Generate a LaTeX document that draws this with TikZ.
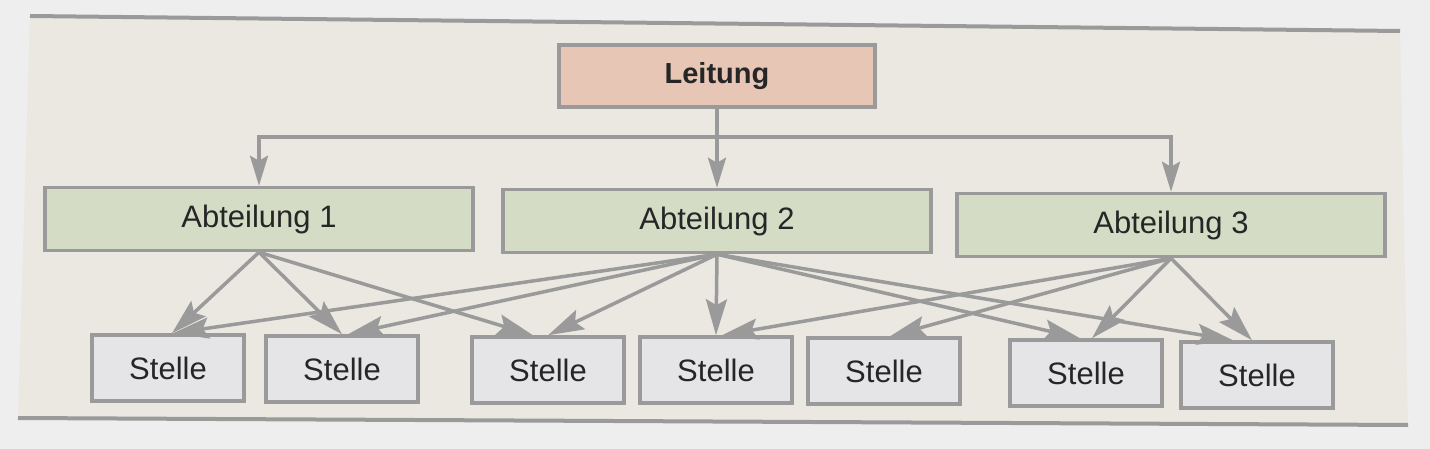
\documentclass[tikz,border=0pt]{standalone}
\usepackage{fontspec}
\setmainfont{Liberation Sans}
\usepackage{tikz}
\usetikzlibrary{positioning,arrows.meta}

\definecolor{pagebg}{HTML}{EEEEEE}
\definecolor{panelbg}{HTML}{EAE8E1}
\definecolor{linegray}{HTML}{9A9A9A}
\definecolor{leitfill}{HTML}{E8C6B6}
\definecolor{abtfill}{HTML}{D5DCC6}
\definecolor{stfill}{HTML}{E5E5E7}
\definecolor{txt}{HTML}{262626}

\begin{document}
\begin{tikzpicture}[
    x=1pt, y=-1pt,
    box/.style={rectangle, draw=linegray, line width=3.5pt, inner sep=0pt, text=txt},
    leit/.style={box, fill=leitfill, minimum width=316pt, minimum height=62pt, font=\fontsize{29}{34}\selectfont\bfseries},
    abt/.style={box, fill=abtfill, minimum width=428pt, minimum height=63pt, font=\fontsize{31}{36}\selectfont},
    stelle/.style={box, fill=stfill, minimum width=152pt, minimum height=66pt, font=\fontsize{31}{36}\selectfont},
    conn/.style={draw=linegray, line width=3.5pt},
    arr/.style={conn, -{Stealth[length=30pt, width=18pt, inset=5pt]}},
    bigarr/.style={conn, -{Stealth[length=36pt, width=21pt, inset=6pt]}},
    rule/.style={draw=linegray, line width=4pt}
  ]
  % page and panel
  \path[use as bounding box, fill=pagebg] (0,0) rectangle (1430,449);
  \fill[panelbg] (30,16) -- (1400,31) -- (1408,425) -- (18,418) -- cycle;
  \draw[rule] (30,16) -- (1400,31);
  \draw[rule] (18,418) -- (1408,425);

  % top level
  \node[leit] (ltg) at (717,76) {Leitung};

  % departments
  \node[abt] (a1) at (259,219) {Abteilung 1};
  \node[abt] (a2) at (717,221) {Abteilung 2};
  \node[abt] (a3) at (1171,225) {Abteilung 3};

  % positions
  \node[stelle] (s1) at (168,368) {Stelle};
  \node[stelle] (s2) at (342,369) {Stelle};
  \node[stelle] (s3) at (548,370) {Stelle};
  \node[stelle] (s4) at (716,370) {Stelle};
  \node[stelle] (s5) at (884,371) {Stelle};
  \node[stelle] (s6) at (1086,373) {Stelle};
  \node[stelle] (s7) at (1257,375) {Stelle};

  \coordinate (bus) at (717,137);
  \draw[arr] (ltg.south) -- (a2.north);
  \foreach \a in {a1, a3}
    \draw[arr] (ltg.south |- bus) -| (\a.north);

  \foreach \a/\s/\dx in {a1/s1/4, a1/s2/0, a1/s3/-15, a2/s1/5, a2/s2/6, a2/s3/0, a2/s4/0,
      a2/s6/-6, a2/s7/-24, a3/s4/6, a3/s5/6, a3/s6/6, a3/s7/-5}
    \draw[bigarr] (\a.south) -- ([xshift=\dx pt]\s.north);
\end{tikzpicture}
\end{document}
